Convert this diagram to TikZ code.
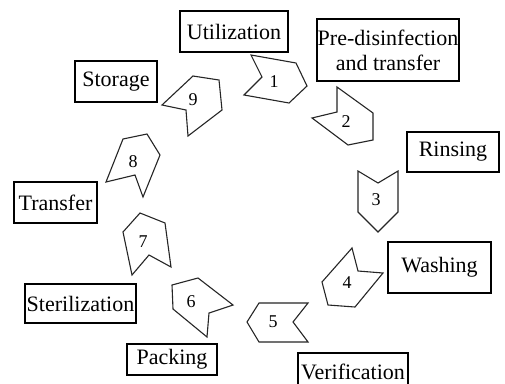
\documentclass[tikz,border=0pt]{standalone}
\usepackage{fontspec}
\setmainfont{Liberation Serif}
\begin{document}
\begin{tikzpicture}[x=1pt,y=-1pt,
  box/.style={draw, line width=1.2pt, inner sep=0pt, font=\fontsize{22}{25}\selectfont, align=center},
  chev/.style={draw=black!85, line width=1.1pt, line join=miter},
  num/.style={inner sep=0pt, font=\fontsize{18}{20}\selectfont}]
\clip (0,0) rectangle (505,383);
\fill[white] (0,0) rectangle (505,383);

% boxes
\node[box, minimum width=108pt, minimum height=41pt] (util) at (234,31.5) {Utilization};
\node[box, minimum width=142pt, minimum height=62pt] (pre) at (388,50) {Pre-disinfection\\and transfer};
\node[box, minimum width=92pt, minimum height=40pt] (rins) at (453,152) {Rinsing};
\node[box, minimum width=103pt, minimum height=51pt] (wash) at (439.5,267.5) {Washing};
\node[box, minimum width=110pt, minimum height=38pt] (verif) at (353,372) {Verification};
\node[box, minimum width=82pt, minimum height=41pt] (stor) at (116,81.5) {Storage};
\node[box, minimum width=83pt, minimum height=41pt] (trans) at (55.5,202.5) {Transfer};
\node[box, minimum width=111pt, minimum height=39pt] (ster) at (80.5,303.5) {Sterilization};
\node[box, minimum width=90pt, minimum height=31pt] (pack) at (172,359.5) {Packing};

% chevrons
\draw[chev] (251,55) -- (296,63) -- (307,86) -- (289,103) -- (244,95) -- (262,77) -- cycle;
\draw[chev] (337,87) -- (373,113) -- (373,140) -- (348,145) -- (312,118) -- (337,112) -- cycle;
\draw[chev] (358,171) -- (358,212) -- (378,232) -- (398,212) -- (398,171) -- (378,183) -- cycle;
\draw[chev] (352,248) -- (322,282) -- (328,305) -- (355,307) -- (383,273) -- (358,271) -- cycle;
\draw[chev] (308,303) -- (259,303) -- (247,322) -- (259,342) -- (308,342) -- (293,322) -- cycle;
\draw[chev] (233,305) -- (198,278) -- (172,285) -- (173,309) -- (207,337) -- (209,313) -- cycle;
\draw[chev] (132,275) -- (123,232) -- (140,213) -- (165,223) -- (171,267) -- (149,255) -- cycle;
\draw[chev] (143,197) -- (160,155) -- (147,134) -- (123,139) -- (106,182) -- (135,175) -- cycle;
\draw[chev] (162,105) -- (193,76) -- (219,80) -- (222,110) -- (188,136) -- (186,110) -- cycle;

% numbers
\node[num] (n1) at (274,82) {1};
\node[num] (n2) at (346,122) {2};
\node[num] (n3) at (376,200) {3};
\node[num] (n4) at (347,283) {4};
\node[num] (n5) at (273,322) {5};
\node[num] (n6) at (191,302) {6};
\node[num] (n7) at (143,242) {7};
\node[num] (n8) at (133,162) {8};
\node[num] (n9) at (193,100) {9};
\end{tikzpicture}
\end{document}
